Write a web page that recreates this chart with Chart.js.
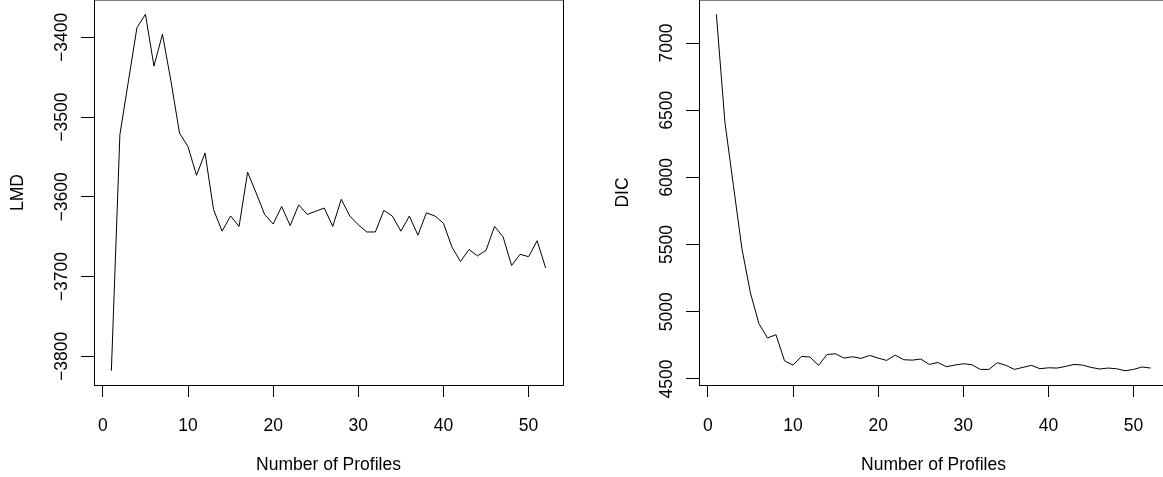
<!DOCTYPE html>
<html lang="en">
<head>
<meta charset="UTF-8">
<title>LMD and DIC by Number of Profiles</title>
<script src="https://cdn.jsdelivr.net/npm/chart.js"></script>
<style>
  html, body { margin: 0; padding: 0; background: #fff; overflow: hidden; }
  body { width: 1163px; height: 477px; position: relative; }
  canvas { position: absolute; top: 0; }
  #lmdChart { left: 0; }
  #dicChart { left: 605px; }
</style>
</head>
<body>
<canvas id="lmdChart" width="581" height="477"></canvas>
<canvas id="dicChart" width="581" height="477"></canvas>
<script>
const profiles = [1, 2, 3, 4, 5, 6, 7, 8, 9, 10, 11, 12, 13, 14, 15, 16, 17, 18, 19, 20,
  21, 22, 23, 24, 25, 26, 27, 28, 29, 30, 31, 32, 33, 34, 35, 36, 37, 38, 39, 40,
  41, 42, 43, 44, 45, 46, 47, 48, 49, 50, 51, 52];

const lmd = [-3818, -3522, -3455, -3388, -3371, -3436, -3396, -3455, -3520, -3537,
  -3573, -3545, -3616, -3643, -3624, -3637, -3569, -3595, -3622, -3634,
  -3612, -3636, -3610, -3622, -3618, -3614, -3637, -3603, -3624, -3635,
  -3644, -3644, -3617, -3624, -3643, -3624, -3648, -3620, -3624, -3633,
  -3663, -3681, -3666, -3674, -3667, -3637, -3650, -3686, -3672, -3675,
  -3655, -3689];

const dic = [7214, 6413, 5940, 5470, 5140, 4911, 4805, 4829, 4635, 4603,
  4668, 4663, 4601, 4682, 4687, 4655, 4665, 4653, 4675, 4655,
  4638, 4677, 4643, 4640, 4648, 4608, 4623, 4591, 4603, 4613,
  4606, 4571, 4571, 4621, 4601, 4571, 4586, 4601, 4576, 4583,
  4581, 4593, 4608, 4603, 4586, 4574, 4581, 4576, 4561, 4571,
  4589, 4581];

const xTicks = [0, 10, 20, 30, 40, 50];
const lmdTicks = [-3800, -3700, -3600, -3500, -3400];
const dicTicks = [4500, 5000, 5500, 6000, 6500, 7000];

const FONT = { family: '"Liberation Sans", Arial, Helvetica, sans-serif', size: 17.5 };

// box round the plot region and vertical y tick labels, like base R
const rFrame = {
  id: 'rFrame',
  afterDraw(chart, args, opts) {
    const { ctx, chartArea: a, scales } = chart;
    ctx.save();
    ctx.strokeStyle = '#000';
    ctx.lineWidth = 1;
    ctx.strokeRect(a.left + 0.5, a.top, a.right - a.left, a.bottom - a.top + 0.5);
    ctx.fillStyle = '#000';
    ctx.font = FONT.size + 'px ' + FONT.family;
    ctx.textAlign = 'center';
    ctx.textBaseline = 'middle';
    opts.ticks.forEach(v => {
      const y = scales.y.getPixelForValue(v);
      ctx.save();
      ctx.translate(a.left - 32, y);
      ctx.rotate(-Math.PI / 2);
      ctx.fillText(String(v).replace('-', '\u2212'), 0, 0);
      ctx.restore();
    });
    ctx.restore();
  }
};

// R pads the data range by 4% on each side
function padded(vals) {
  const lo = Math.min(...vals), hi = Math.max(...vals);
  const pad = (hi - lo) * 0.04;
  return { min: lo - pad, max: hi + pad };
}

function drawPanel(id, values, yTicks, yTitle) {
  const xr = padded(profiles);
  const yr = padded(values);
  return new Chart(document.getElementById(id), {
    type: 'line',
    data: {
      datasets: [{
        data: profiles.map((p, i) => ({ x: p, y: values[i] })),
        borderColor: '#000',
        borderWidth: 1,
        pointRadius: 0,
        fill: false,
        tension: 0
      }]
    },
    options: {
      responsive: false,
      animation: false,
      devicePixelRatio: 1,
      layout: { padding: { left: 0, right: 18, top: 0, bottom: 0 } },
      plugins: {
        legend: { display: false },
        tooltip: { enabled: false },
        rFrame: { ticks: yTicks }
      },
      scales: {
        x: {
          type: 'linear',
          min: xr.min,
          max: xr.max,
          afterBuildTicks: s => { s.ticks = xTicks.map(v => ({ value: v })); },
          afterFit: s => { s.height = 92; },
          grid: { drawOnChartArea: false, drawTicks: true, tickLength: 12, color: '#000', lineWidth: 1 },
          border: { display: false },
          ticks: { font: FONT, color: '#000', padding: 19, maxRotation: 0, autoSkip: false },
          title: { display: true, text: 'Number of Profiles', font: FONT, color: '#000', padding: { top: 0, bottom: 1.5 } }
        },
        y: {
          type: 'linear',
          min: yr.min,
          max: yr.max,
          afterBuildTicks: s => { s.ticks = yTicks.map(v => ({ value: v })); },
          afterFit: s => { s.width = 94; },
          grid: { drawOnChartArea: false, drawTicks: true, tickLength: 13, color: '#000', lineWidth: 1 },
          border: { display: false },
          ticks: { display: false },
          title: { display: true, text: yTitle, font: FONT, color: '#000', padding: { top: 8, bottom: 0 } }
        }
      }
    },
    plugins: [rFrame]
  });
}

drawPanel('lmdChart', lmd, lmdTicks, 'LMD');
drawPanel('dicChart', dic, dicTicks, 'DIC');
</script>
</body>
</html>
